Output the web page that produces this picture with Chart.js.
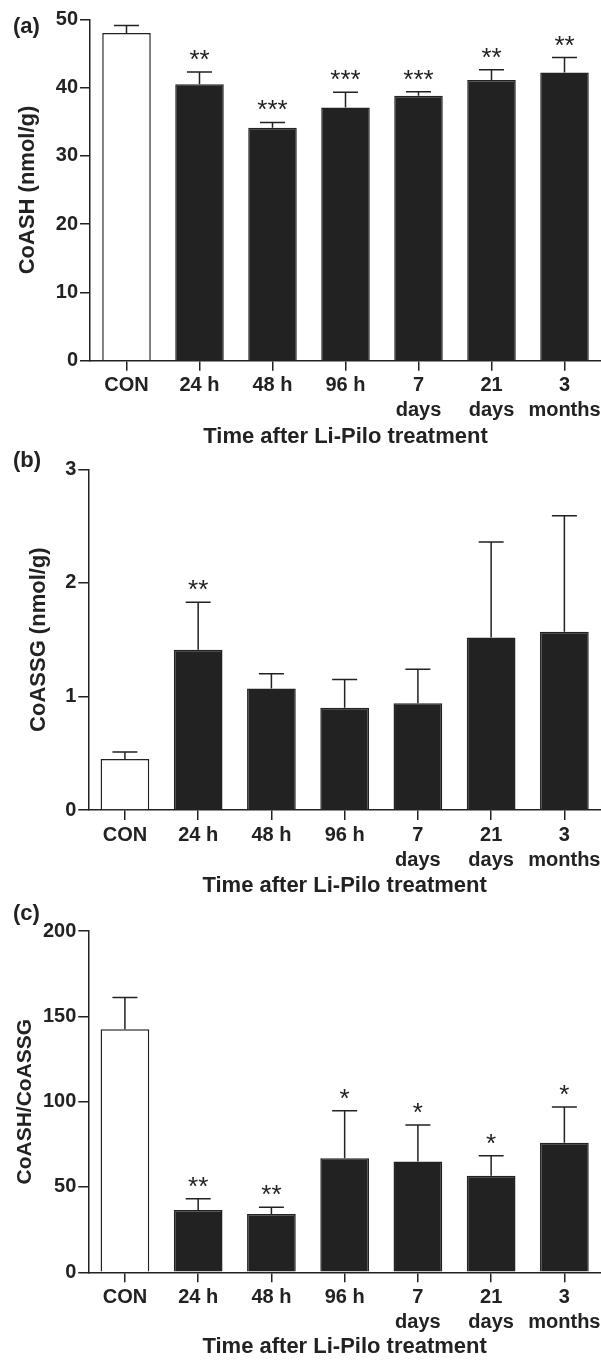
<!DOCTYPE html>
<html>
<head>
<meta charset="utf-8">
<script src="https://cdn.jsdelivr.net/npm/chart.js@4.4.1/dist/chart.umd.min.js"></script>
<style>
body { margin: 0; background: #fff; width: 601px; height: 1361px; position: relative; overflow: hidden; }
canvas { position: absolute; left: 0; }
</style>
</head>
<body>
<canvas id="chartA" width="601" height="452" style="top:0px"></canvas>
<canvas id="chartB" width="601" height="460" style="top:440px"></canvas>
<canvas id="chartC" width="601" height="461" style="top:900px"></canvas>
<script>
var groups = ['CON', '24 h', '48 h', '96 h', ['7', 'days'], ['21', 'days'], ['3', 'months']]

// (a) CoASH
var coash      = [48.0, 40.5, 34.1, 37.1, 38.8, 41.1, 42.2]
var coashSem   = [1.1, 1.8, 0.8, 2.2, 0.6, 1.5, 2.2]
var coashStars = ['', '**', '***', '***', '***', '**', '**']

// (b) CoASSG
var coassg      = [0.45, 1.41, 1.07, 0.90, 0.94, 1.52, 1.57]
var coassgSem   = [0.06, 0.42, 0.13, 0.25, 0.30, 0.84, 1.02]
var coassgStars = ['', '**', '', '', '', '', '']

// (c) ratio
var ratio      = [142.4, 36.5, 34.2, 66.8, 65.0, 56.6, 75.9]
var ratioSem   = [18.7, 6.6, 3.9, 27.9, 21.3, 11.7, 21.0]
var ratioStars = ['', '**', '**', '*', '*', '*', '*']

var ink = '#222'
Chart.defaults.font.family = "'Liberation Sans', Arial, sans-serif"
Chart.defaults.color = ink

function makePanel(id, p) {
    var marks = {
        id: 'marks' + id,
        afterDatasetsDraw: function(chart) {
            var ctx = chart.ctx
            var y = chart.scales.y
            var meta = chart.getDatasetMeta(0)
            ctx.save()
            ctx.strokeStyle = ink
            ctx.lineWidth = 1.5
            meta.data.forEach(function(bar, i) {
                var top = y.getPixelForValue(p.values[i] + p.sem[i])
                ctx.beginPath()
                ctx.moveTo(bar.x, bar.y)
                ctx.lineTo(bar.x, top)
                ctx.moveTo(bar.x - 12.5, top)
                ctx.lineTo(bar.x + 12.5, top)
                ctx.stroke()
                if (p.stars[i]) {
                    ctx.fillStyle = ink
                    ctx.font = "26px 'Liberation Sans', Arial, sans-serif"
                    ctx.textAlign = 'center'
                    ctx.textBaseline = 'alphabetic'
                    ctx.fillText(p.stars[i], bar.x, top - 4)
                }
            })
            ctx.fillStyle = ink
            ctx.font = "bold 22px 'Liberation Sans', Arial, sans-serif"
            ctx.textAlign = 'left'
            ctx.textBaseline = 'middle'
            ctx.fillText(p.panel, 13, p.panelY)
            ctx.restore()
        }
    }

    var fills = p.values.map(function(v, i) { return i == 0 ? '#fff' : ink })

    return new Chart(document.getElementById(id), {
        type: 'bar',
        data: {
            labels: groups,
            datasets: [{
                data: p.values,
                backgroundColor: fills,
                borderColor: ink,
                borderWidth: 1.5,
                borderSkipped: 'bottom',
                barPercentage: 0.665,
                categoryPercentage: 1
            }]
        },
        options: {
            responsive: false,
            animation: false,
            devicePixelRatio: 1,
            layout: { padding: { top: p.top, left: 0, right: 0, bottom: 0 } },
            plugins: { legend: { display: false }, tooltip: { enabled: false } },
            scales: {
                x: {
                    grid: { offset: false, drawOnChartArea: false, tickLength: 10, color: ink, lineWidth: 1.5 },
                    border: { color: ink, width: 1.5 },
                    ticks: { autoSkip: false, color: ink, padding: 2.5, maxRotation: 0, font: { size: 20, weight: 'bold', lineHeight: 1.25 } },
                    title: {
                        display: true,
                        text: 'Time after Li-Pilo treatment',
                        color: ink,
                        font: { size: 22, weight: 'bold', lineHeight: 1.2 },
                        padding: { top: 0, bottom: p.xTitlePad }
                    },
                    afterFit: function(s) { s.height = p.xHeight; s.paddingLeft = 0; s.paddingRight = 0 }
                },
                y: {
                    min: 0,
                    max: p.max,
                    grid: { drawOnChartArea: false, tickLength: 10, color: ink, lineWidth: 1.5 },
                    border: { color: ink, width: 1.5 },
                    ticks: { stepSize: p.step, color: ink, padding: 2, font: { size: 20, weight: 'bold' } },
                    title: {
                        display: true,
                        text: p.yTitle,
                        color: ink,
                        font: { size: p.yTitleSize, weight: 'bold', lineHeight: 1.2 },
                        padding: { top: p.yTitlePad, bottom: 0 }
                    },
                    afterFit: function(s) { s.width = p.yWidth; s.paddingTop = 0; s.paddingBottom = 0 }
                }
            }
        },
        plugins: [marks]
    })
}

makePanel('chartA', {
    values: coash, sem: coashSem, stars: coashStars,
    panel: '(a)', panelY: 27, max: 50, step: 10,
    yTitle: 'CoASH (nmol/g)', yTitleSize: 22, yTitlePad: 15, yWidth: 90,
    top: 19.3, xHeight: 91.3, xTitlePad: 1.8
})

makePanel('chartB', {
    values: coassg, sem: coassgSem, stars: coassgStars,
    panel: '(b)', panelY: 21, max: 3, step: 1,
    yTitle: 'CoASSG (nmol/g)', yTitleSize: 22, yTitlePad: 26, yWidth: 88.3,
    top: 29.3, xHeight: 90, xTitlePad: 0.8
})

makePanel('chartC', {
    values: ratio, sem: ratioSem, stars: ratioStars,
    panel: '(c)', panelY: 14, max: 200, step: 50,
    yTitle: 'CoASH/CoASSG', yTitleSize: 21, yTitlePad: 13, yWidth: 88.3,
    top: 31, xHeight: 88.7, xTitlePad: 0.8
})
</script>
</body>
</html>
